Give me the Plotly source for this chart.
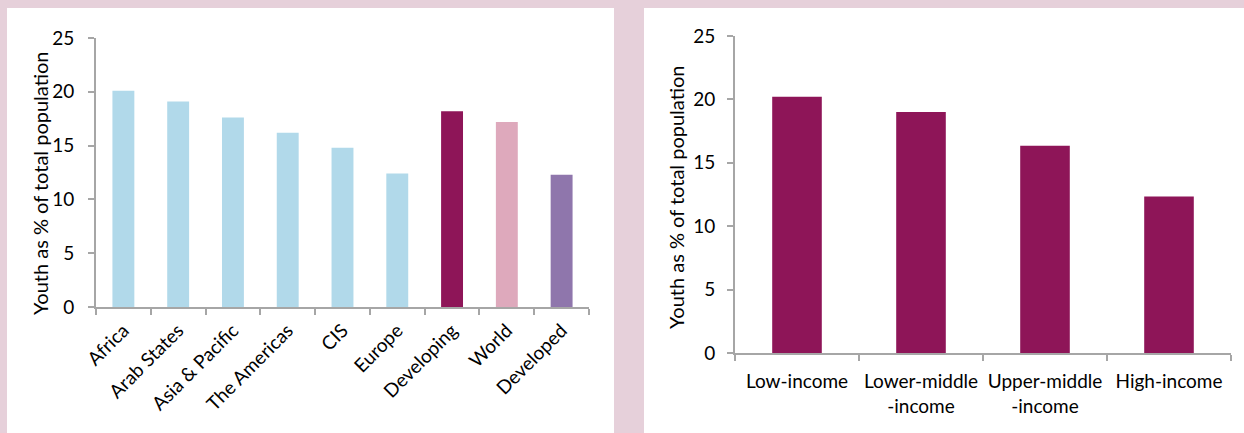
import plotly.graph_objects as go

W, H = 1244, 433

# ---- data ----
regions = ["Africa", "Arab States", "Asia & Pacific", "The Americas", "CIS",
           "Europe", "Developing", "World", "Developed"]
region_values = [20.1, 19.1, 17.6, 16.2, 14.8, 12.4, 18.2, 17.2, 12.3]

income_groups = ["Low-income", "Lower-middle<br>-income", "Upper-middle<br>-income", "High-income"]
income_values = [20.2, 19.0, 16.35, 12.35]

y_ticks = [0, 5, 10, 15, 20, 25]
y_title = "Youth as % of total population"

# ---- styles ----
LIGHT_BLUE = "#B1D9EA"
PLUM = "#8E1558"
PINK = "#DEA9BC"
PURPLE = "#8F76AC"
region_colors = [LIGHT_BLUE] * 6 + [PLUM, PINK, PURPLE]
BG = "#E6D0DA"
AXIS = "#A6A6A6"
FONT = "Lato"
FS = 19
FS_TITLE = 20

def px_x(x):
    return x / W

def px_y(y):
    return (H - y) / H

fig = go.Figure()
fig.add_trace(go.Bar(x=regions, y=region_values, marker=dict(color=region_colors, line=dict(width=0)),
                     width=0.4, xaxis="x", yaxis="y", showlegend=False, hoverinfo="x+y"))
fig.add_trace(go.Bar(x=income_groups, y=income_values, marker=dict(color=PLUM, line=dict(width=0)),
                     width=0.4, xaxis="x2", yaxis="y2", showlegend=False, hoverinfo="x+y"))

common_y = dict(range=[0, 25], tickvals=y_ticks, showgrid=False, zeroline=False, showline=True,
                linecolor=AXIS, linewidth=2, ticks="outside", ticklen=6, tickwidth=2, tickcolor=AXIS,
                tickfont=dict(family=FONT, size=FS, color="#000"), fixedrange=True, automargin=False)
common_x = dict(type="category", showgrid=False, zeroline=False, showline=True, linecolor=AXIS,
                linewidth=2, ticks="outside", ticklen=6, tickwidth=2, tickcolor=AXIS, tickson="boundaries",
                tickfont=dict(family=FONT, size=FS, color="#000"), fixedrange=True, automargin=False)

fig.update_layout(
    template="none",
    width=W, height=H, autosize=False,
    margin=dict(l=0, r=0, t=0, b=0, pad=0),
    paper_bgcolor=BG, plot_bgcolor="rgba(0,0,0,0)",
    bargap=0.6,
    xaxis=dict(common_x, domain=[px_x(96), px_x(589)], anchor="y", tickangle=-45, ticklabelstandoff=3),
    yaxis=dict(common_y, domain=[px_y(307), px_y(38)], anchor="x", ticklabelstandoff=10),
    xaxis2=dict(common_x, domain=[px_x(735), px_x(1231)], anchor="y2", tickangle=0, ticklabelstandoff=10),
    yaxis2=dict(common_y, domain=[px_y(353), px_y(36)], anchor="x2", ticklabelstandoff=8),
    shapes=[
        dict(type="rect", xref="paper", yref="paper", x0=px_x(7), x1=px_x(614), y0=0, y1=px_y(8),
             fillcolor="white", line=dict(width=0), layer="below"),
        dict(type="rect", xref="paper", yref="paper", x0=px_x(644), x1=1, y0=0, y1=px_y(8),
             fillcolor="white", line=dict(width=0), layer="below"),
    ],
    annotations=[
        dict(text=y_title, xref="paper", yref="paper", x=px_x(40), y=px_y(184), textangle=-90,
             showarrow=False, font=dict(family=FONT, size=FS_TITLE, color="#000"),
             xanchor="center", yanchor="middle"),
        dict(text=y_title, xref="paper", yref="paper", x=px_x(676), y=px_y(198), textangle=-90,
             showarrow=False, font=dict(family=FONT, size=FS_TITLE, color="#000"),
             xanchor="center", yanchor="middle"),
    ],
)

fig.write_html("out.html", config={"displayModeBar": False},
               post_script="document.body.style.margin='0';document.body.style.overflow='hidden';")
